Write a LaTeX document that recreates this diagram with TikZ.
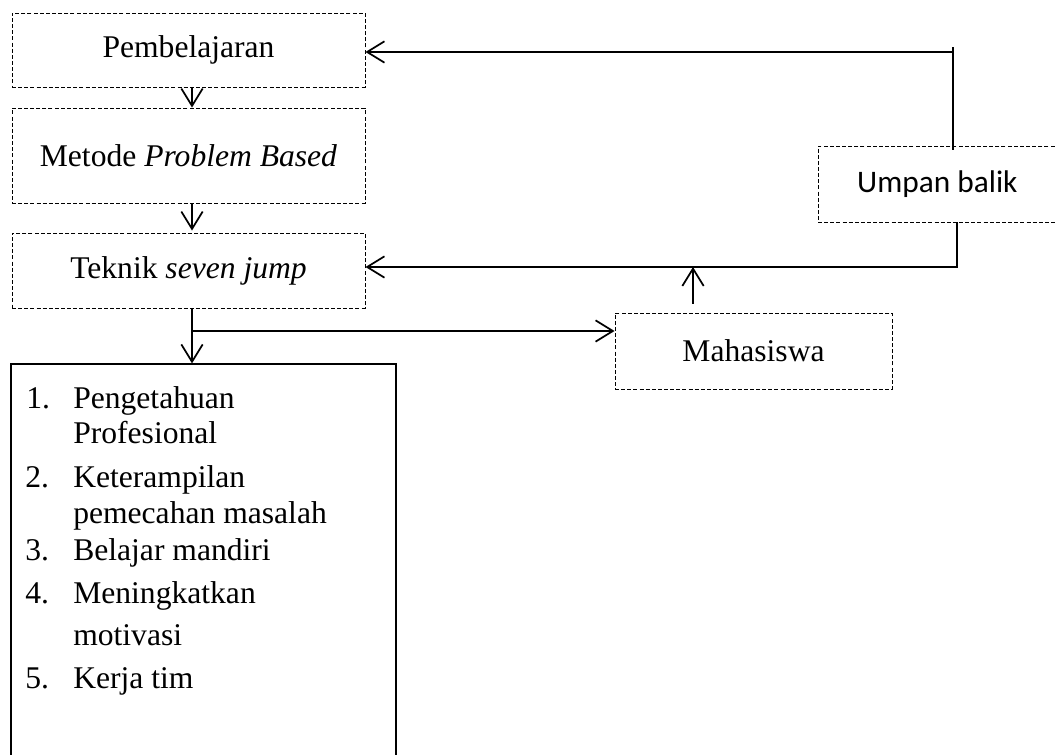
\documentclass[tikz,border=0pt]{standalone}
\usepackage{fontspec}
\setmainfont{Liberation Serif}
\newfontfamily\carlito{Carlito}
\usetikzlibrary{arrows.meta}
\begin{document}
\begin{tikzpicture}[x=0.75pt,y=-0.75pt,
  dbox/.style={draw, dashed, dash pattern=on 3pt off 1.6pt, line width=0.7pt, inner sep=0pt, align=center,
    font=\fontsize{23.7}{28}\selectfont},
  sbox/.style={draw, line width=0.9pt, inner sep=0pt},
  conn/.style={line width=1.3pt},
  arr/.style={conn, -{Straight Barb[length=13pt,width=16pt,line width=1.3pt]}},
  item/.style={anchor=base west, inner sep=0pt, font=\fontsize{23.7}{28}\selectfont}]
\useasboundingbox (0,0) rectangle (1055,755);
\clip (0,0) rectangle (1055,755);
\fill[white] (0,0) rectangle (1055,755);

% boxes
\node[dbox, minimum width=264.75pt, minimum height=55.5pt] (pemb) at (188.5,50) {Pembelajaran};
\node[dbox, minimum width=264.75pt, minimum height=71.25pt] (metode) at (188.5,155.5) {Metode \textit{Problem Based}};
\node[dbox, minimum width=264.75pt, minimum height=56.25pt] (teknik) at (188.5,270.5) {Teknik \textit{seven jump}};
\node[dbox, minimum width=207.75pt, minimum height=57pt] (maha) at (753.5,351) {Mahasiswa};
\node[dbox, minimum width=189pt, minimum height=57pt, font=\carlito\fontsize{23.5}{28}\selectfont] (umpan) at (944,184) {Umpan balik\hspace{10pt}};
\node[sbox, minimum width=288.75pt, minimum height=304.5pt] (list) at (203.5,567) {};

% list items
\node[item] (n1) at (26,408) {1.};
\node[item] (t1a) at (73,408) {Pengetahuan};
\node[item] (t1b) at (73,443) {Profesional};
\node[item] (n2) at (25,487) {2.};
\node[item] (t2a) at (73,487) {Keterampilan};
\node[item] (t2b) at (73,523) {pemecahan masalah};
\node[item] (n3) at (25,560) {3.};
\node[item] (t3) at (73,560) {Belajar mandiri};
\node[item] (n4) at (25,603) {4.};
\node[item] (t4a) at (73,603) {Meningkatkan};
\node[item] (t4b) at (73,645) {motivasi};
\node[item] (n5) at (25,688) {5.};
\node[item] (t5) at (73,688) {Kerja tim};

% helper coordinates
\coordinate (cx) at (192,0);
\coordinate (jy) at (0,331);
\coordinate (mx) at (693,0);
\coordinate (fbc) at (957,267);
\coordinate (ut) at (953,47);
\coordinate (uc) at (953,52);

% connectors
\draw[arr] (pemb.south -| cx) -- (metode.north -| cx);
\draw[arr] (metode.south -| cx) -- ([yshift=1.5pt]teknik.north -| cx);
\draw[arr] (teknik.south -| cx) -- (list.north -| cx);
\draw[arr] (cx |- jy) -- (maha.west |- jy);
\draw[arr] ([yshift=6.75pt]maha.north -| mx) -- (mx |- fbc);
\draw[arr] (umpan.south -| fbc) |- (teknik.east |- fbc);
\draw[conn] ([yshift=-3pt]umpan.north -| ut) -- (ut);
\draw[arr] (uc) -- (pemb.east |- uc);
\end{tikzpicture}
\end{document}
